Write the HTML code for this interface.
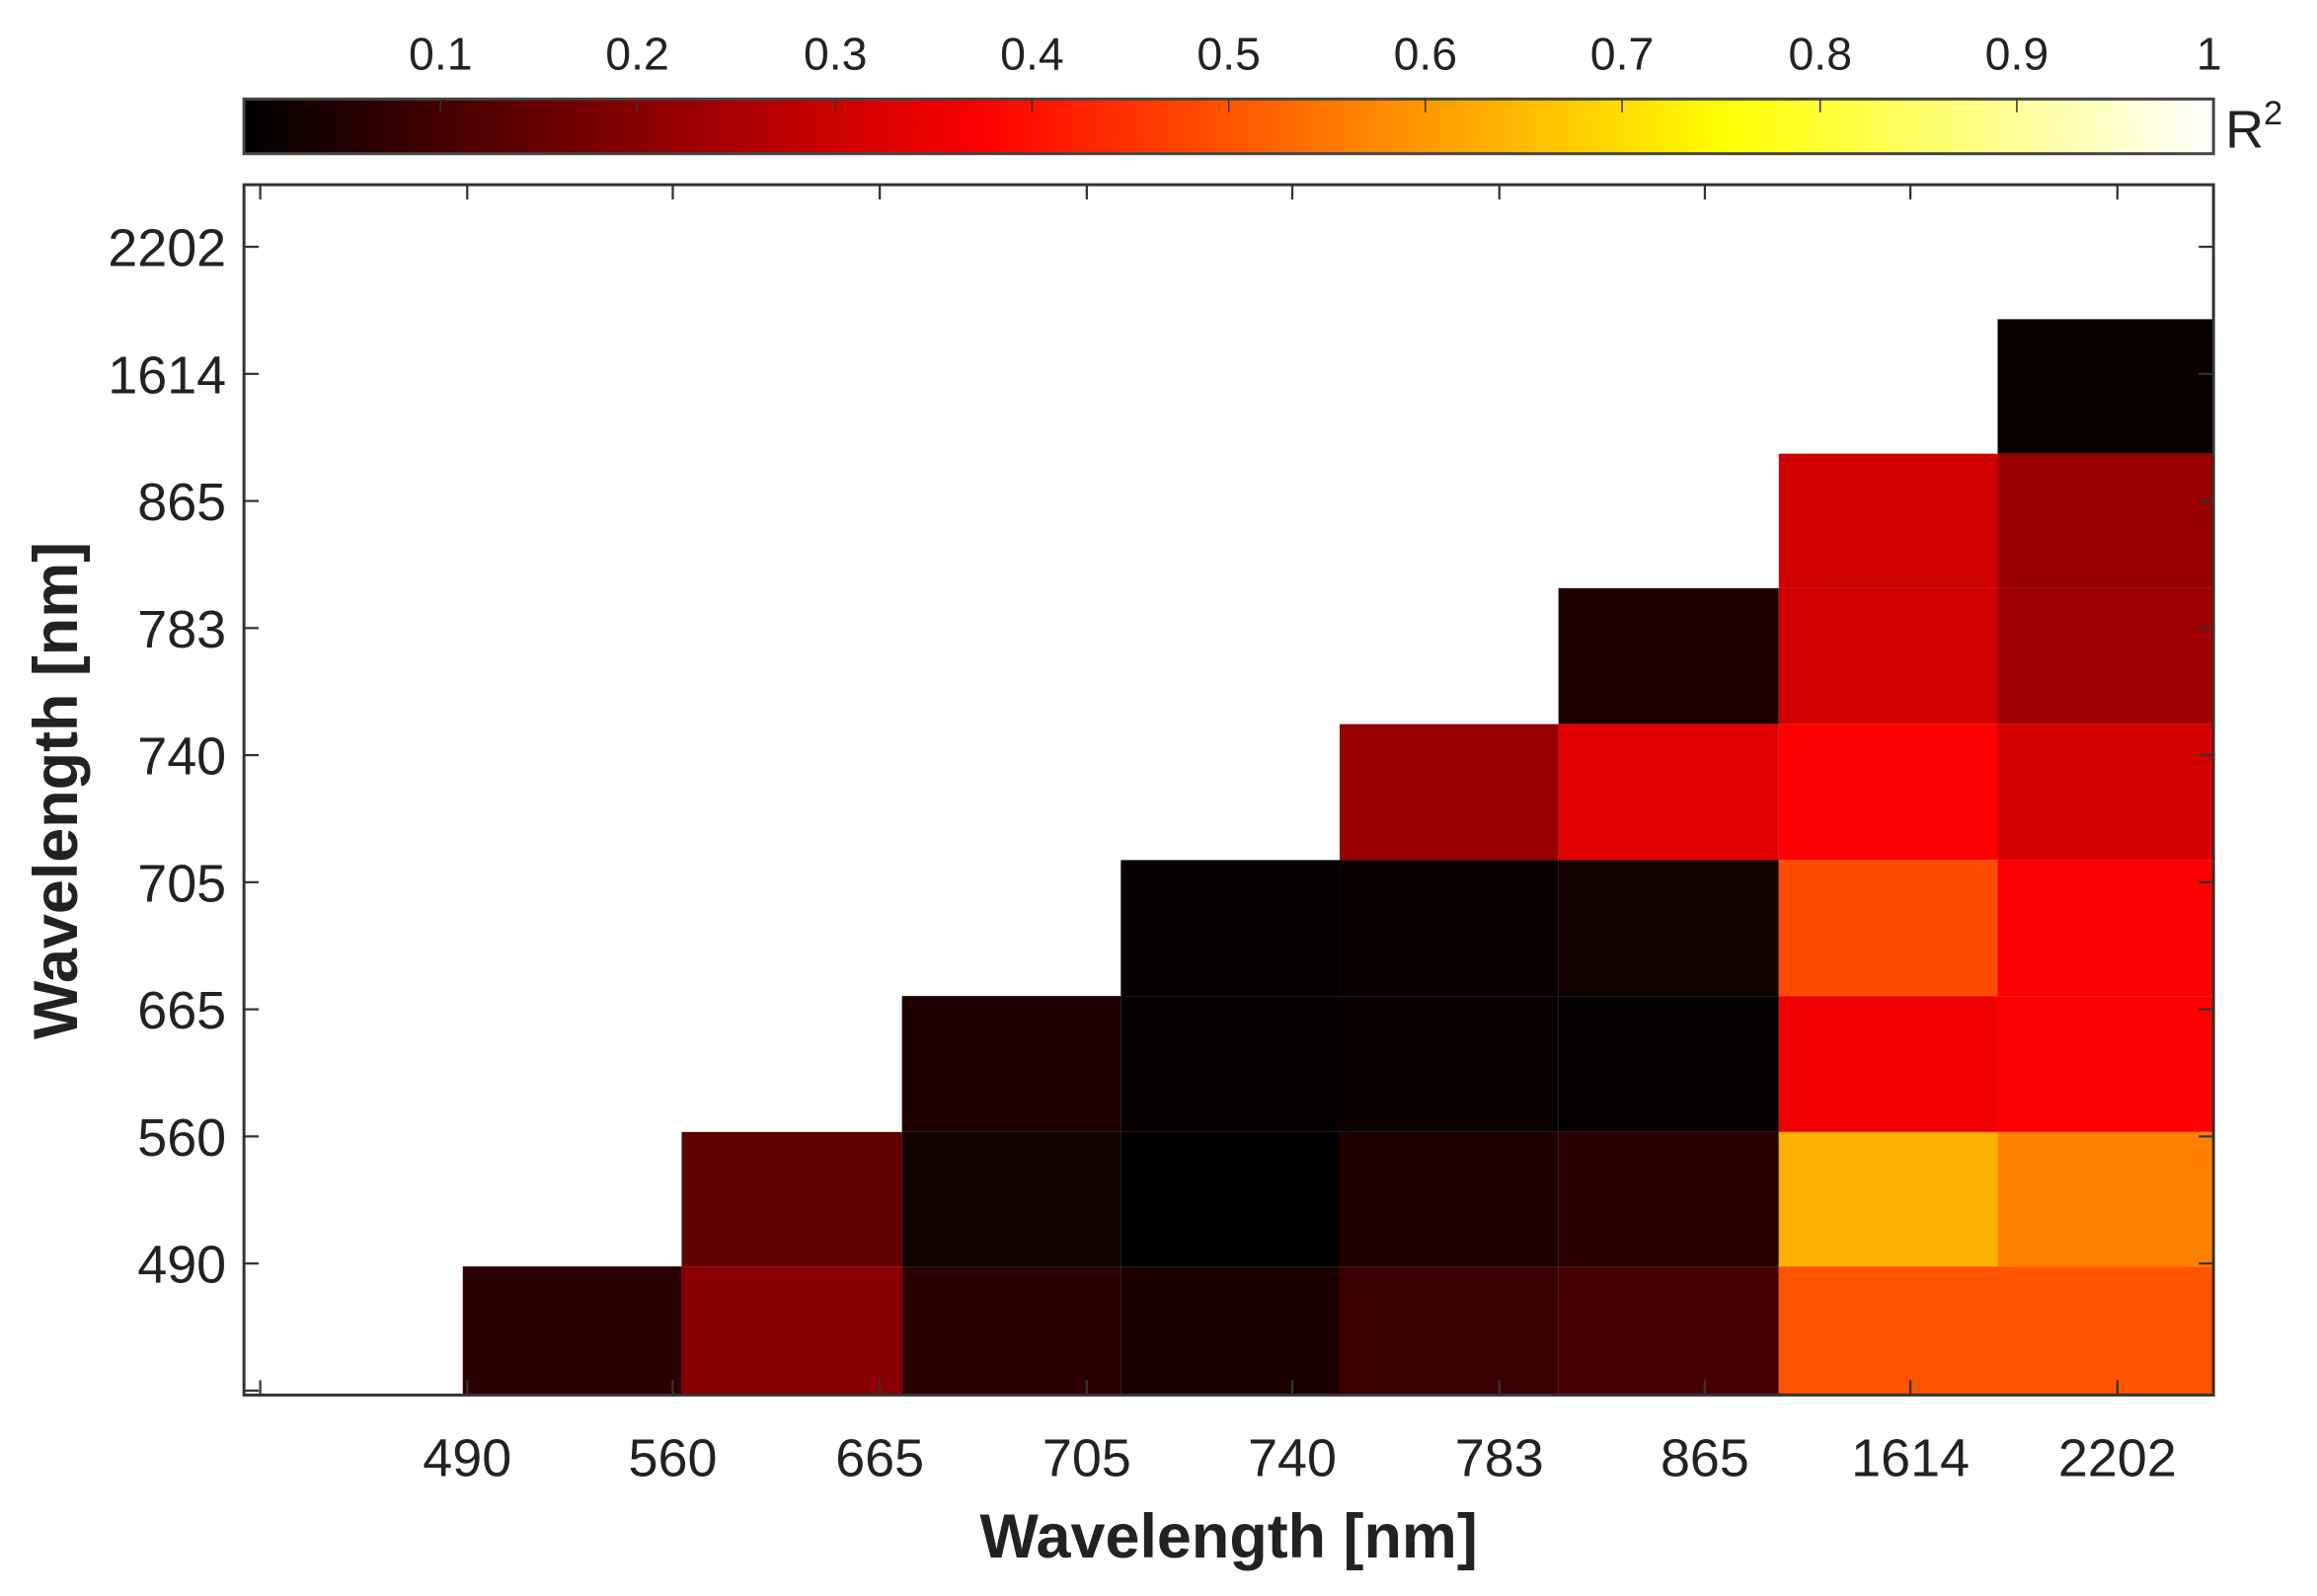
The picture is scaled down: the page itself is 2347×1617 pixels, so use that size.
<!DOCTYPE html>
<html><head><style>html,body{margin:0;padding:0;background:#fff}svg{display:block}</style></head>
<body>
<svg width="2347" height="1617" viewBox="0 0 1567 1080" preserveAspectRatio="none" xmlns="http://www.w3.org/2000/svg" font-family="Liberation Sans, sans-serif">
<defs>
<linearGradient id="hot" x1="0" x2="1" y1="0" y2="0">
<stop offset="0" stop-color="#000"/>
<stop offset="0.375" stop-color="#f00"/>
<stop offset="0.75" stop-color="#ff0"/>
<stop offset="1" stop-color="#fff"/>
</linearGradient>
</defs>
<rect width="1567" height="1080" fill="#fff"/>
<rect x="165" y="67" width="1332" height="37" fill="url(#hot)" stroke="#444" stroke-width="2"/>
<g stroke="#333" stroke-width="1">
<line x1="298" y1="67" x2="298" y2="76"/><line x1="431" y1="67" x2="431" y2="76"/><line x1="565" y1="67" x2="565" y2="76"/><line x1="698" y1="67" x2="698" y2="76"/><line x1="831" y1="67" x2="831" y2="76"/><line x1="964" y1="67" x2="964" y2="76"/><line x1="1097" y1="67" x2="1097" y2="76"/><line x1="1231" y1="67" x2="1231" y2="76"/><line x1="1364" y1="67" x2="1364" y2="76"/>
</g>
<g font-size="31" fill="#222" text-anchor="middle">
<text x="298" y="47">0.1</text><text x="431" y="47">0.2</text><text x="565" y="47">0.3</text><text x="698" y="47">0.4</text><text x="831" y="47">0.5</text><text x="964" y="47">0.6</text><text x="1097" y="47">0.7</text><text x="1231" y="47">0.8</text><text x="1364" y="47">0.9</text><text x="1494" y="47">1</text>
</g>
<text x="1505" y="100" font-size="36" fill="#222">R<tspan dy="-16" font-size="23">2</tspan></text>
<g>
<rect x="1351" y="216" width="146" height="91" fill="#0a0000"/>
<rect x="1203" y="307" width="148" height="91" fill="#d00000"/><rect x="1351" y="307" width="146" height="91" fill="#9a0000"/>
<rect x="1054" y="398" width="149" height="92" fill="#1e0000"/><rect x="1203" y="398" width="148" height="92" fill="#d00000"/><rect x="1351" y="398" width="146" height="92" fill="#a00000"/>
<rect x="906" y="490" width="148" height="92" fill="#980000"/><rect x="1054" y="490" width="149" height="92" fill="#e00000"/><rect x="1203" y="490" width="148" height="92" fill="#ff0000"/><rect x="1351" y="490" width="146" height="92" fill="#d40000"/>
<rect x="758" y="582" width="148" height="92" fill="#050000"/><rect x="906" y="582" width="148" height="92" fill="#080000"/><rect x="1054" y="582" width="149" height="92" fill="#120000"/><rect x="1203" y="582" width="148" height="92" fill="#ff4c00"/><rect x="1351" y="582" width="146" height="92" fill="#ff0000"/>
<rect x="610" y="674" width="148" height="92" fill="#1e0000"/><rect x="758" y="674" width="148" height="92" fill="#040000"/><rect x="906" y="674" width="148" height="92" fill="#060000"/><rect x="1054" y="674" width="149" height="92" fill="#050000"/><rect x="1203" y="674" width="148" height="92" fill="#f00000"/><rect x="1351" y="674" width="146" height="92" fill="#ff0000"/>
<rect x="461" y="766" width="149" height="91" fill="#620000"/><rect x="610" y="766" width="148" height="91" fill="#100000"/><rect x="758" y="766" width="148" height="91" fill="#020000"/><rect x="906" y="766" width="148" height="91" fill="#1e0000"/><rect x="1054" y="766" width="149" height="91" fill="#2c0000"/><rect x="1203" y="766" width="148" height="91" fill="#ffb200"/><rect x="1351" y="766" width="146" height="91" fill="#ff8000"/>
<rect x="313" y="857" width="148" height="87" fill="#2a0000"/><rect x="461" y="857" width="149" height="87" fill="#8a0000"/><rect x="610" y="857" width="148" height="87" fill="#2a0000"/><rect x="758" y="857" width="148" height="87" fill="#1a0000"/><rect x="906" y="857" width="148" height="87" fill="#3a0000"/><rect x="1054" y="857" width="149" height="87" fill="#460000"/><rect x="1203" y="857" width="148" height="87" fill="#ff5500"/><rect x="1351" y="857" width="146" height="87" fill="#ff5500"/>
</g>
<rect x="165" y="125" width="1332" height="819" fill="none" stroke="#333" stroke-width="2"/>
<g stroke="#333" stroke-width="1.5">
<line x1="176" y1="944" x2="176" y2="934"/><line x1="316" y1="944" x2="316" y2="934"/><line x1="455" y1="944" x2="455" y2="934"/><line x1="595" y1="944" x2="595" y2="934"/><line x1="735" y1="944" x2="735" y2="934"/><line x1="874" y1="944" x2="874" y2="934"/><line x1="1014" y1="944" x2="1014" y2="934"/><line x1="1153" y1="944" x2="1153" y2="934"/><line x1="1292" y1="944" x2="1292" y2="934"/><line x1="1432" y1="944" x2="1432" y2="934"/>
<line x1="176" y1="125" x2="176" y2="135"/><line x1="316" y1="125" x2="316" y2="135"/><line x1="455" y1="125" x2="455" y2="135"/><line x1="595" y1="125" x2="595" y2="135"/><line x1="735" y1="125" x2="735" y2="135"/><line x1="874" y1="125" x2="874" y2="135"/><line x1="1014" y1="125" x2="1014" y2="135"/><line x1="1153" y1="125" x2="1153" y2="135"/><line x1="1292" y1="125" x2="1292" y2="135"/><line x1="1432" y1="125" x2="1432" y2="135"/>
<line x1="165" y1="167" x2="175" y2="167"/><line x1="165" y1="253" x2="175" y2="253"/><line x1="165" y1="339" x2="175" y2="339"/><line x1="165" y1="425" x2="175" y2="425"/><line x1="165" y1="511" x2="175" y2="511"/><line x1="165" y1="597" x2="175" y2="597"/><line x1="165" y1="683" x2="175" y2="683"/><line x1="165" y1="769" x2="175" y2="769"/><line x1="165" y1="855" x2="175" y2="855"/><line x1="165" y1="941" x2="175" y2="941"/>
<line x1="1497" y1="167" x2="1487" y2="167"/><line x1="1497" y1="253" x2="1487" y2="253"/><line x1="1497" y1="339" x2="1487" y2="339"/><line x1="1497" y1="425" x2="1487" y2="425"/><line x1="1497" y1="511" x2="1487" y2="511"/><line x1="1497" y1="597" x2="1487" y2="597"/><line x1="1497" y1="683" x2="1487" y2="683"/><line x1="1497" y1="769" x2="1487" y2="769"/><line x1="1497" y1="855" x2="1487" y2="855"/>
</g>
<g font-size="36" fill="#222" text-anchor="end">
<text x="153" y="180">2202</text><text x="153" y="266">1614</text><text x="153" y="352">865</text><text x="153" y="438">783</text><text x="153" y="524">740</text><text x="153" y="610">705</text><text x="153" y="696">665</text><text x="153" y="782">560</text><text x="153" y="868">490</text>
</g>
<g font-size="36" fill="#222" text-anchor="middle">
<text x="316" y="999">490</text><text x="455" y="999">560</text><text x="595" y="999">665</text><text x="735" y="999">705</text><text x="874" y="999">740</text><text x="1014" y="999">783</text><text x="1153" y="999">865</text><text x="1292" y="999">1614</text><text x="1432" y="999">2202</text>
</g>
<text x="831" y="1054" font-size="42" font-weight="bold" fill="#222" text-anchor="middle">Wavelength [nm]</text>
<text transform="translate(52,535) rotate(-90)" font-size="42" font-weight="bold" fill="#222" text-anchor="middle">Wavelength [nm]</text>
</svg>
</body></html>
